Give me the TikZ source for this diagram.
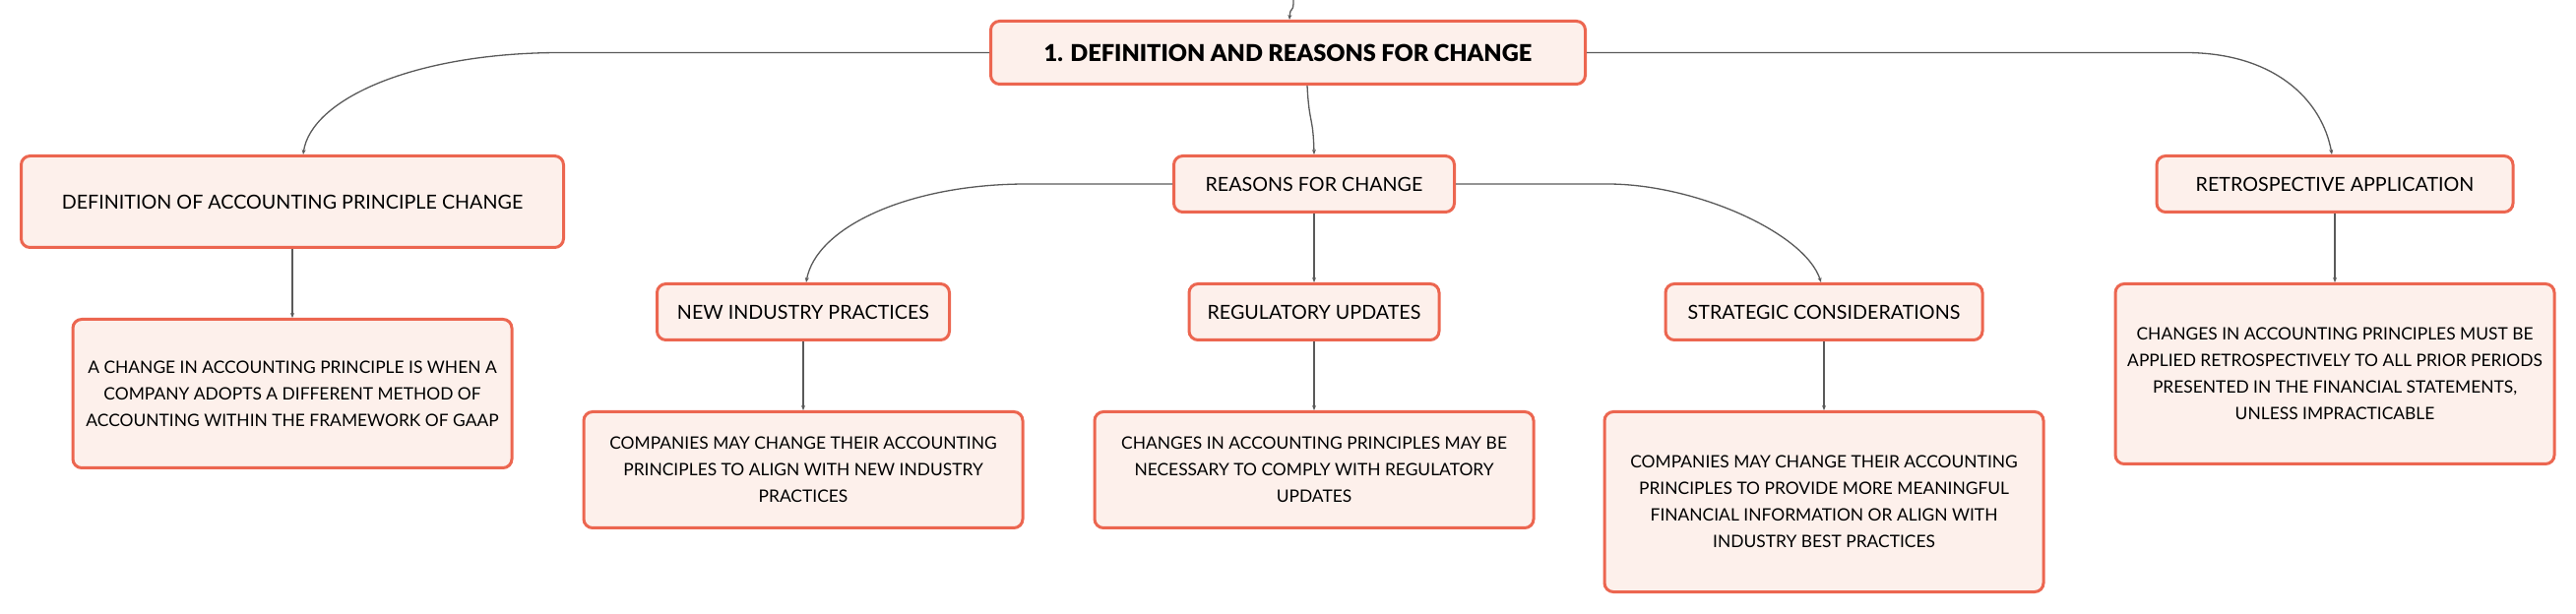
\documentclass[tikz,border=0pt]{standalone}
\usepackage{fontspec}
\setmainfont{Lato}
\newfontfamily\blackfont{Lato Black}
\usetikzlibrary{arrows.meta,positioning}

\definecolor{boxred}{HTML}{EC6650}
\definecolor{boxfill}{HTML}{FDF0EB}
\definecolor{linkgray}{HTML}{5A5A5A}

\begin{document}
\begin{tikzpicture}[x=1pt,y=1pt,node distance=35pt,
  box/.style={rectangle,rounded corners=4.5pt,draw=boxred,fill=boxfill,
    line width=1.5pt,align=center,inner sep=2pt,
    font=\fontsize{9.85}{13.5}\selectfont},
  root node/.style={box,minimum width=302pt,minimum height=32pt,
    font=\fontsize{11.8}{15}\selectfont\blackfont},
  head node/.style={box,minimum height=28.5pt},
  note node/.style={box,minimum width=223pt,
    font=\fontsize{8.7}{13.5}\selectfont},
  link/.style={draw=linkgray,line width=0.65pt,
    -{Stealth[length=2.5pt,width=2pt]}}]

  \useasboundingbox (0,0) rectangle (1308.5,-312);

  \node[root node] (root) at (654.25,-26.75) {1. DEFINITION AND REASONS FOR CHANGE};
  \coordinate (up) at (657,0);

  \node[head node,minimum width=275.5pt,minimum height=46.5pt] (def) at (148.5,-102.5)
    {DEFINITION OF ACCOUNTING PRINCIPLE CHANGE};
  \node[head node,minimum width=142.5pt] (reasons) at (667.5,-93.5) {REASONS FOR CHANGE};
  \node[head node,minimum width=181pt] (retro) at (1186,-93.5) {RETROSPECTIVE APPLICATION};

  \node[head node,minimum width=148.5pt] (newind) [below=of reasons,xshift=-259.5pt]
    {NEW INDUSTRY PRACTICES};
  \node[head node,minimum width=127pt] (reg) [below=of reasons] {REGULATORY UPDATES};
  \node[head node,minimum width=161pt] (strat) [below=of reasons,xshift=259pt]
    {STRATEGIC CONSIDERATIONS};

  \node[note node,minimum height=75.5pt] (defT) [below=of def]
    {A CHANGE IN ACCOUNTING PRINCIPLE IS WHEN A\\
     COMPANY ADOPTS A DIFFERENT METHOD OF\\
     ACCOUNTING WITHIN THE FRAMEWORK OF GAAP};
  \node[note node,minimum height=59pt] (newindT) [below=of newind]
    {COMPANIES MAY CHANGE THEIR ACCOUNTING\\
     PRINCIPLES TO ALIGN WITH NEW INDUSTRY\\
     PRACTICES};
  \node[note node,minimum height=59pt] (regT) [below=of reg]
    {CHANGES IN ACCOUNTING PRINCIPLES MAY BE\\
     NECESSARY TO COMPLY WITH REGULATORY\\
     UPDATES};
  \node[note node,minimum height=91.5pt] (stratT) [below=of strat]
    {COMPANIES MAY CHANGE THEIR ACCOUNTING\\
     PRINCIPLES TO PROVIDE MORE MEANINGFUL\\
     FINANCIAL INFORMATION OR ALIGN WITH\\
     INDUSTRY BEST PRACTICES};
  \node[note node,minimum height=91.5pt] (retroT) [below=of retro]
    {CHANGES IN ACCOUNTING PRINCIPLES MUST BE\\
     APPLIED RETROSPECTIVELY TO ALL PRIOR PERIODS\\
     PRESENTED IN THE FINANCIAL STATEMENTS,\\
     UNLESS IMPRACTICABLE};

  % main topic
  \draw[link] (up) .. controls +(0,-8) and +(0.5,8) .. ([xshift=0.75pt]root.north);
  \draw[link] (root.west) -- ++(-217.5,0)
    .. controls +(-75,0) and +(4,28) .. ([xshift=5.5pt]def.north);
  \draw[link] ([xshift=9.75pt]root.south)
    .. controls +(1,-20) and +(-0.5,20) .. (reasons.north);
  \draw[link] (root.east) -- ++(304,0)
    .. controls +(45,0) and +(-5,28) .. ([xshift=-1.5pt]retro.north);

  % reasons
  \draw[link] (reasons.west) -- ++(-74,0)
    .. controls +(-60,0) and +(5,28) .. ([xshift=1.5pt]newind.north);
  \draw[link] (reasons) -- (reg);
  \draw[link] (reasons.east) -- ++(77,0)
    .. controls +(45,0) and +(-8,25) .. ([xshift=-1.5pt]strat.north);

  % notes
  \draw[link] (def) -- (defT);
  \draw[link] (newind) -- (newindT);
  \draw[link] (reg) -- (regT);
  \draw[link] (strat) -- (stratT);
  \draw[link] (retro) -- (retroT);

\end{tikzpicture}
\end{document}
